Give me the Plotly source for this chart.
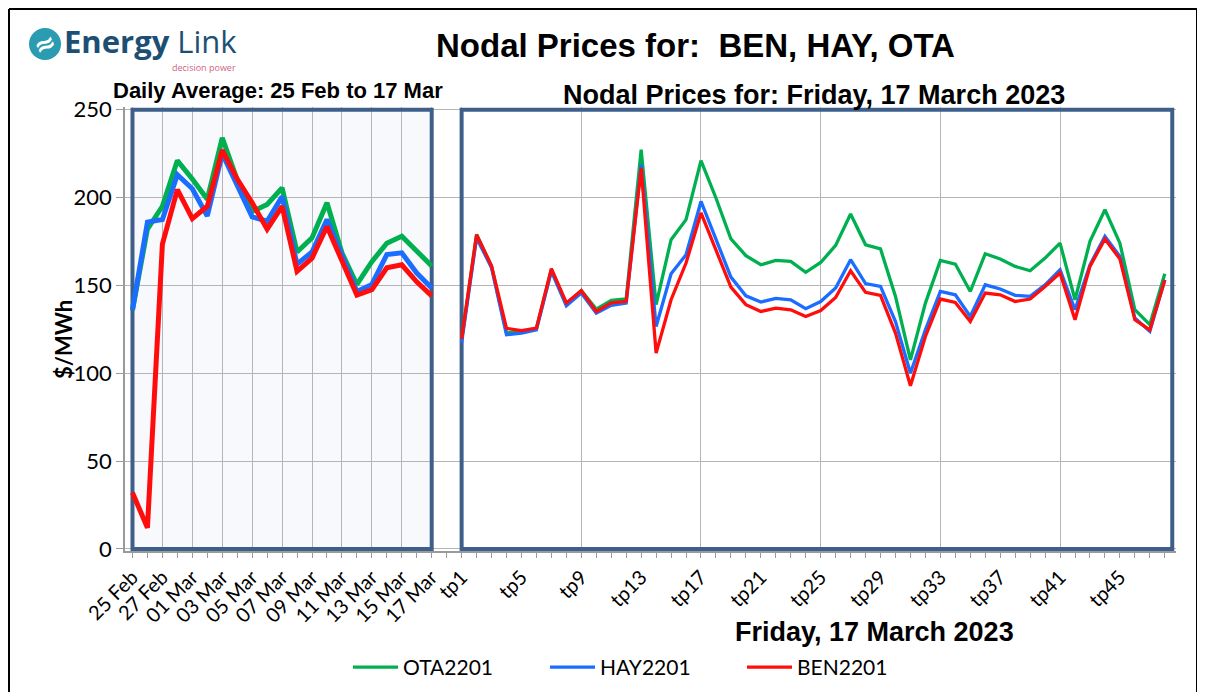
import plotly.graph_objects as go

# ---------------- data ----------------
days = ["25 Feb", "26 Feb", "27 Feb", "28 Feb", "01 Mar", "02 Mar", "03 Mar",
        "04 Mar", "05 Mar", "06 Mar", "07 Mar", "08 Mar", "09 Mar", "10 Mar",
        "11 Mar", "12 Mar", "13 Mar", "14 Mar", "15 Mar", "16 Mar", "17 Mar"]

ota_daily = [136, 182, 195, 221, 210.5, 199, 234, 210, 192, 196, 205.5,
             169, 177, 197, 168.5, 150.5, 163.5, 174, 178, 169.5, 161]
hay_daily = [136, 186, 187.5, 213, 205, 189.5, 225, 207, 189, 186.5, 200.5,
             162, 169, 187.5, 167, 146.5, 150.5, 167.5, 168.5, 157, 148.5]
ben_daily = [32, 12, 173.5, 204.5, 188, 195, 227, 210.5, 197, 182, 195,
             158, 165.5, 183.5, 164, 144.5, 147.5, 160, 161.7, 152, 144]

tps = ["tp%d" % i for i in range(1, 49)]

ota_tp = [119, 179, 161, 123, 123.5, 125.5, 159, 139.5, 147, 136.5, 141.5, 142.3,
          227.2, 139, 176, 187.4, 221, 199.7, 176.4, 166.9, 161.7, 164.2, 163.6, 157.4,
          163, 172.7, 190.6, 173.1, 170.7, 143.7, 107.6, 139.9, 164.2, 162.1, 146.5, 168,
          165, 160.8, 158.3, 165.5, 174, 141.8, 175, 193, 174, 136.1, 127.6, 156.6]
hay_tp = [117.3, 177, 160, 121.9, 122.8, 124.7, 158, 138.4, 145.6, 134.2, 138.6, 139.9,
          218.7, 126.6, 156.6, 167.4, 197.8, 176, 154.7, 144, 140.5, 142.6, 141.8, 136.7,
          140.8, 148.5, 164.6, 151, 149.4, 129.4, 100, 124.7, 146.5, 144.6, 132.3, 150.3,
          147.9, 144.3, 143.7, 150.3, 158.9, 136.1, 161.7, 177.9, 166.5, 131.4, 123.8, 153.2]
ben_tp = [119.5, 178.8, 161, 125.5, 124.2, 125.7, 159.5, 140, 147, 135.1, 140, 140.9,
          216.8, 111.4, 141.8, 162.7, 191.2, 170.3, 149, 139, 135.1, 137, 136.1, 132.3,
          135.7, 143.1, 158.3, 146, 144.3, 122.8, 92.8, 120.9, 142.2, 140.3, 129.4, 145.6,
          144.6, 140.8, 142.2, 149.4, 157, 130.4, 160.8, 176.4, 165, 130.4, 124.7, 153]

series_names = ["OTA2201", "HAY2201", "BEN2201"]
series_colors = ["#00b050", "#1a6dff", "#ff0d0d"]

y_ticks = [0, 50, 100, 150, 200, 250]

# ---------------- positions on one shared category scale ----------------
n_days = len(days)
day_pos = list(range(n_days))
tp_pos = [n_days + 1 + i for i in range(len(tps))]
x_min = -0.5
x_max = tp_pos[-1] + 0.75

tick_pos = day_pos + [n_days] + tp_pos
tick_text = [d if i % 2 == 0 else "" for i, d in enumerate(days)] + [""] + \
            [t if i % 4 == 0 else "" for i, t in enumerate(tps)]
grid_pos = day_pos[::2] + tp_pos[::8]

# ---------------- geometry helpers (layout decoration only) ----------------
OFF = 8  # page body margin
W_FIG, H_FIG = 1197, 685
ML, MR, MT, MB = 117, 29, 99, 142
PW = W_FIG - ML - MR
PH = H_FIG - MT - MB


def px(x):
    return (x - OFF - ML) / PW


def py(y):
    return (H_FIG - MB - (y - OFF)) / PH


fig = go.Figure()

daily = [ota_daily, hay_daily, ben_daily]
tpvals = [ota_tp, hay_tp, ben_tp]
for name, col, d in zip(series_names, series_colors, daily):
    fig.add_trace(go.Scatter(x=day_pos, y=d, mode="lines", name=name,
                             line=dict(color=col, width=5), showlegend=False,
                             legendgroup=name, xaxis="x", yaxis="y"))
for name, col, v in zip(series_names, series_colors, tpvals):
    fig.add_trace(go.Scatter(x=tp_pos, y=v, mode="lines", name=name,
                             line=dict(color=col, width=3.3), showlegend=True,
                             legendgroup=name, xaxis="x2", yaxis="y"))

BOX = "#3f5f8b"
GRID = "#b5b5b5"
AXL = "#9a9a9a"

frame = dict(xref="paper", yref="paper", line=dict(color="#000000", width=2))
shapes = [
    dict(type="rect", xref="x", yref="y", x0=day_pos[0], x1=day_pos[-1], y0=0, y1=250,
         fillcolor="#f7f9fc", line=dict(width=0), layer="below"),
    dict(type="rect", xref="x", yref="y", x0=day_pos[0], x1=day_pos[-1], y0=0, y1=250,
         line=dict(color=BOX, width=4), layer="between"),
    dict(type="rect", xref="x", yref="y", x0=tp_pos[0], x1=tp_pos[-1] + 0.5, y0=0, y1=250,
         line=dict(color=BOX, width=4), layer="between"),
    # outer frame (top, left, right)
    dict(type="line", x0=px(9), x1=px(1197), y0=py(9), y1=py(9), **frame),
    dict(type="line", x0=px(9), x1=px(9), y0=py(9), y1=py(692), **frame),
    dict(type="line", x0=px(1197), x1=px(1197), y0=py(9), y1=py(692), **frame),
    dict(type="circle", xref="paper", yref="paper", x0=px(29), x1=px(61), y0=py(60), y1=py(28),
         fillcolor="#2a9bb0", line=dict(width=0)),
]

annotations = [
    dict(x=px(695), y=py(46), text="<b>Nodal Prices for: \u00a0BEN, HAY, OTA</b>",
         font=dict(family="Liberation Sans", size=33, color="#000")),
    dict(x=px(278), y=py(90), text="<b>Daily Average: 25 Feb to 17 Mar</b>",
         font=dict(family="Liberation Sans", size=22, color="#000")),
    dict(x=px(814), y=py(95), text="<b>Nodal Prices for: Friday, 17 March 2023</b>",
         font=dict(family="Liberation Sans", size=27, color="#000")),
    dict(x=px(874), y=py(632), text="<b>Friday, 17 March 2023</b>",
         font=dict(family="Liberation Sans", size=27, color="#000")),
    dict(x=px(63), y=py(340), text="<b>$/MWh</b>", textangle=-90,
         font=dict(family="Lato", size=22, color="#000")),
    dict(x=px(45), y=py(44), text="<b>\u2248</b>", textangle=-25,
         font=dict(family="DejaVu Sans", size=26, color="#ffffff")),
    dict(x=px(62), y=py(41), xanchor="left", text="<b>Energy</b> Link",
         font=dict(family="Open Sans", size=31, color="#1d4f74")),
    dict(x=px(238), y=py(67), xanchor="right", text="decision power",
         font=dict(family="Open Sans", size=9, color="#cf6480")),
]
for a in annotations:
    a.setdefault("xanchor", "center")
    a.update(xref="paper", yref="paper", showarrow=False, yanchor="middle")

fig.update_layout(
    width=W_FIG, height=H_FIG,
    margin=dict(l=ML, r=MR, t=MT, b=MB, autoexpand=False),
    paper_bgcolor="#ffffff", plot_bgcolor="#ffffff",
    shapes=shapes, annotations=annotations,
    xaxis=dict(range=[x_min, x_max], tickmode="array", tickvals=grid_pos,
               showticklabels=False, ticks="", showgrid=True, gridcolor=GRID,
               gridwidth=1.3, zeroline=False, showline=False, automargin=False),
    xaxis2=dict(range=[x_min, x_max], overlaying="x", anchor="y", side="bottom",
                tickmode="array", tickvals=tick_pos, ticktext=tick_text,
                tickangle=-45, ticks="outside", ticklen=5, tickcolor=AXL,
                showgrid=False, zeroline=False, showline=True, linecolor=AXL,
                linewidth=1.5, automargin=False,
                tickfont=dict(family="Lato", size=20, color="#000")),
    yaxis=dict(range=[-1.2, 251.5], tickmode="array", tickvals=y_ticks,
               showgrid=True, gridcolor=GRID, gridwidth=1.3, zeroline=False,
               showline=True, linecolor=AXL, linewidth=1.5, ticks="outside",
               ticklen=7, tickcolor=AXL, automargin=False,
               tickfont=dict(family="Lato", size=22, color="#000")),
    legend=dict(orientation="h", x=px(348), y=py(647), xanchor="left", yanchor="top",
                font=dict(family="Lato", size=21, color="#000"),
                entrywidth=137, itemwidth=45, bgcolor="rgba(0,0,0,0)"),
    showlegend=True,
)

fig.write_html("out.html")
